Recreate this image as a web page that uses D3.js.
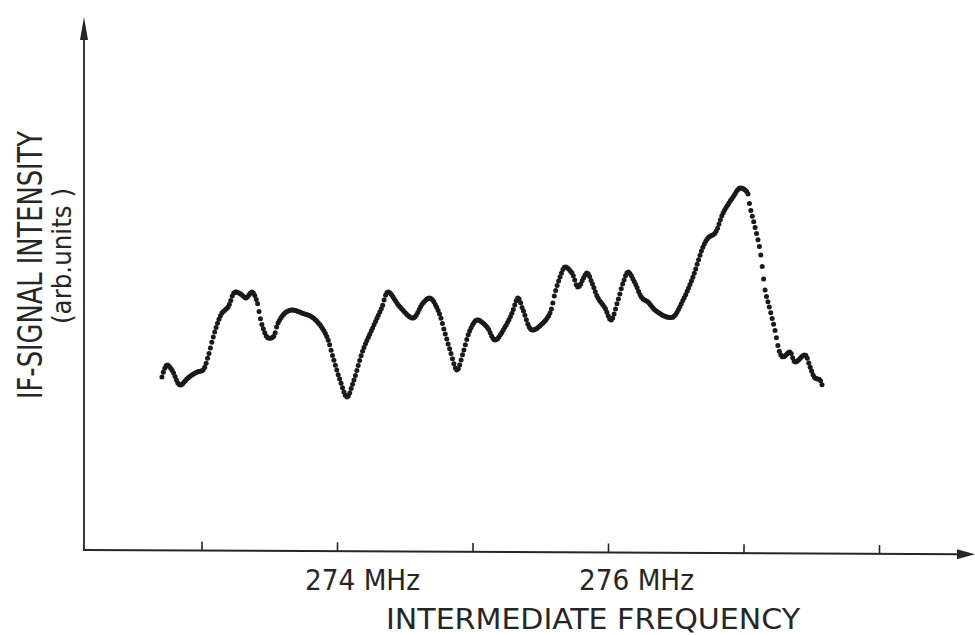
<!DOCTYPE html>
<html>
<head>
<meta charset="utf-8">
<script src="https://cdn.jsdelivr.net/npm/d3@7"></script>
<style>
  html, body { margin: 0; padding: 0; background: #fff; }
  svg { display: block; }
  text { font-family: "Liberation Sans Narrow", "DejaVu Sans Condensed", "Roboto", sans-serif; fill: #262626; }
</style>
</head>
<body>
<svg id="chart" width="975" height="635"></svg>
<script>
// ---- data ----
const freqMHz = [
  272.708, 272.745, 272.782, 272.841, 272.900, 272.967, 273.011, 273.048, 273.077, 273.114,
  273.151, 273.196, 273.247, 273.299, 273.328, 273.373, 273.410, 273.432, 273.454, 273.491,
  273.528, 273.565, 273.616, 273.668, 273.742, 273.815, 273.875, 273.926, 273.970, 274.022,
  274.074, 274.118, 274.192, 274.266, 274.332, 274.376, 274.465, 274.561, 274.635, 274.686,
  274.745, 274.797, 274.834, 274.886, 274.930, 274.982, 275.033, 275.107, 275.166, 275.240,
  275.292, 275.336, 275.373, 275.439, 275.520, 275.572, 275.609, 275.646, 275.683, 275.734,
  275.779, 275.845, 275.882, 275.926, 275.978, 276.022, 276.074, 276.111, 276.148, 276.199,
  276.251, 276.295, 276.347, 276.435, 276.480, 276.554, 276.627, 276.701, 276.738, 276.790,
  276.849, 276.923, 276.974, 277.026, 277.048, 277.085, 277.122, 277.144, 277.159, 277.196,
  277.232, 277.269, 277.292, 277.343, 277.380, 277.454, 277.491, 277.528, 277.565, 277.587
];
const intensity = [
  43.25, 46.25, 45.0, 41.25, 43.0, 44.5, 45.0, 48.25, 52.0, 56.25,
  59.25, 60.75, 64.5, 63.75, 63.0, 64.5, 62.0, 58.25, 55.5, 53.0,
  53.25, 56.75, 59.25, 60.0, 59.25, 58.25, 56.25, 53.25, 48.25, 42.5,
  38.25, 41.75, 50.0, 55.75, 60.75, 64.5, 60.75, 58.0, 61.75, 63.0,
  60.0, 54.25, 50.0, 45.0, 49.25, 55.0, 57.5, 55.75, 52.5, 55.75,
  59.25, 63.0, 60.0, 55.0, 56.75, 59.25, 64.25, 68.25, 70.75, 69.25,
  65.75, 69.25, 66.75, 63.0, 60.5, 57.5, 62.5, 66.75, 69.5, 66.75,
  63.0, 62.0, 60.0, 58.25, 58.25, 62.5, 68.25, 75.75, 78.0, 79.25,
  84.25, 88.25, 90.5, 89.5, 85.75, 80.75, 75.0, 69.25, 65.0, 60.0,
  55.0, 49.25, 48.25, 49.5, 47.0, 48.75, 45.75, 43.0, 42.5, 40.0
];
const tickValues = [273, 274, 275, 276, 277, 278];
const labeledTicks = [274, 276];
const tickLabels = ["274 MHz", "276 MHz"];
const xTitle = "INTERMEDIATE FREQUENCY";
const yTitle = "IF-SIGNAL INTENSITY";
const ySubTitle = "(arb.units )";

// ---- layout ----
const svg = d3.select("#chart");
const originX = 84, originY = 550;
const x = d3.scaleLinear().domain([273, 278]).range([201.5, 879]);
const y = d3.scaleLinear().domain([0, 130]).range([originY, 30]);
const ink = "#262626";

// y axis with arrow
svg.append("line")
  .attr("x1", originX).attr("y1", originY + 1)
  .attr("x2", originX).attr("y2", 34)
  .attr("stroke", ink).attr("stroke-width", 1.8);
svg.append("path")
  .attr("d", `M${originX},17 L${originX - 4},40 L${originX + 4},40 Z`)
  .attr("fill", ink);

// x axis (slightly tilted like the original drawing)
const xg = svg.append("g").attr("transform", `rotate(0.28, ${originX}, ${originY})`);
xg.append("line")
  .attr("x1", originX - 1).attr("y1", originY)
  .attr("x2", 962).attr("y2", originY)
  .attr("stroke", ink).attr("stroke-width", 2);
xg.append("path")
  .attr("d", `M975,${originY} L957,${originY - 5} L957,${originY + 5} Z`)
  .attr("fill", ink);

const axis = d3.axisBottom(x).tickValues(tickValues).tickSize(-9).tickFormat("");
const ag = xg.append("g").attr("transform", `translate(0,${originY})`).call(axis);
ag.select(".domain").remove();
ag.selectAll(".tick line").attr("stroke", ink).attr("stroke-width", 1.6);

// tick labels
svg.selectAll("text.tl").data(labeledTicks).enter().append("text")
  .attr("class", "tl")
  .attr("x", (d, i) => x(d) - (i === 0 ? 32 : 29))
  .attr("y", 590)
  .attr("font-size", 29)
  .attr("textLength", 115)
  .attr("lengthAdjust", "spacingAndGlyphs")
  .text((d, i) => tickLabels[i]);

// x title
svg.append("text")
  .attr("x", 386).attr("y", 629)
  .attr("font-size", 29)
  .attr("textLength", 414)
  .attr("lengthAdjust", "spacingAndGlyphs")
  .text(xTitle);

// y titles
svg.append("text")
  .attr("transform", "translate(42,265) rotate(-90)")
  .attr("text-anchor", "middle")
  .attr("font-size", 34)
  .attr("textLength", 268)
  .attr("lengthAdjust", "spacingAndGlyphs")
  .text(yTitle);
svg.append("text")
  .attr("transform", "translate(71,256) rotate(-90)")
  .attr("text-anchor", "middle")
  .attr("font-size", 26)
  .attr("textLength", 136)
  .attr("lengthAdjust", "spacingAndGlyphs")
  .text(ySubTitle);

// curve: plotter-style dotted trace sampled at equal frequency steps
const pts = freqMHz.map((f, i) => [x(f), y(intensity[i])]);
const line = d3.line().curve(d3.curveCatmullRom.alpha(0.5));
const guide = svg.append("path")
  .attr("d", line(pts))
  .attr("fill", "none")
  .attr("stroke", "none");
const node = guide.node();
const total = node.getTotalLength();
const dots = [];
let nextX = pts[0][0];
const step = 1.4;
for (let l = 0; l <= total; l += 0.2) {
  const p = node.getPointAtLength(l);
  if (p.x >= nextX) { dots.push([p.x, p.y]); nextX = p.x + step; }
}
svg.append("g").selectAll("circle").data(dots).enter().append("circle")
  .attr("cx", d => d[0]).attr("cy", d => d[1])
  .attr("r", 2.5)
  .attr("fill", "#1a1a1a");
</script>
</body>
</html>
